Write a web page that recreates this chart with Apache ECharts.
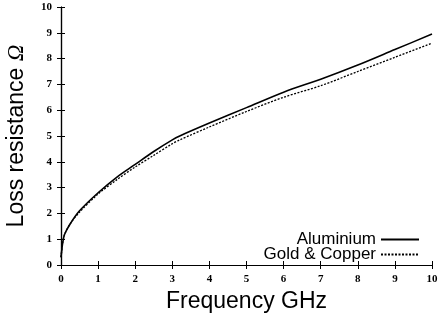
<!DOCTYPE html>
<html><head><meta charset="utf-8">
<script src="https://cdn.jsdelivr.net/npm/echarts@6/dist/echarts.min.js"></script>
<style>html,body{margin:0;padding:0;background:#fff}#c{width:439px;height:314px}</style>
</head><body><div id="c"></div>
<script>
var freq = [0, 0.05, 0.1, 0.25, 0.5, 1, 1.5, 2, 2.5, 3, 3.2, 4, 5, 6, 7, 8, 9, 10];
var aluminium = [0.3, 0.9, 1.2, 1.6, 2.1, 2.8, 3.4, 3.9, 4.4, 4.85, 5.0, 5.5, 6.1, 6.7, 7.2, 7.75, 8.35, 8.95];
var goldCopper = [0.3, 0.9, 1.2, 1.6, 2.05, 2.75, 3.3, 3.8, 4.25, 4.7, 4.85, 5.35, 5.95, 6.5, 6.95, 7.5, 8.05, 8.6];
var seriesNames = ['Aluminium', 'Gold & Copper'];

function pairs(xs, ys){ return xs.map(function(x,i){ return [x, ys[i]]; }); }

var chart = echarts.init(document.getElementById('c'));
var axisLine = {show:true, lineStyle:{color:'#000', width:1.2}};
var tick = {show:true, inside:true, length:4, lineStyle:{color:'#000'}};
var lab = {color:'#000', fontFamily:'Liberation Serif', fontSize:11, fontWeight:'bold'};
chart.setOption({
  animation:false,
  grid:{left:61, right:7, top:7, bottom:49, containLabel:false, outerBoundsMode:'none'},
  legend:{
    orient:'vertical', right:19, bottom:51, align:'right',
    itemWidth:38, itemHeight:8, itemGap:-2, padding:0,
    itemStyle:{opacity:0},
    textStyle:{fontFamily:'Liberation Sans', fontSize:17, color:'#000', padding:[0,0,0,0]},
    data:seriesNames
  },
  xAxis:[
    {type:'value', min:0, max:10, interval:1, position:'bottom',
     axisLine:axisLine, axisTick:tick, splitLine:{show:false},
     axisLabel:Object.assign({margin:9}, lab),
     name:'Frequency GHz', nameLocation:'middle', nameGap:16,
     nameTextStyle:{fontFamily:'Liberation Sans', fontSize:23, color:'#000'}},
    {type:'value', min:0, max:10, interval:1, position:'top',
     axisLine:axisLine, axisTick:tick, splitLine:{show:false}, axisLabel:{show:false}}
  ],
  yAxis:[
    {type:'value', min:0, max:10, interval:1, position:'left',
     axisLine:axisLine, axisTick:tick, splitLine:{show:false},
     axisLabel:Object.assign({margin:9}, lab),
     name:'Loss resistance {i|Ω}', nameLocation:'middle', nameGap:33,
     nameTextStyle:{fontFamily:'Liberation Sans', fontSize:23, color:'#000',
       rich:{i:{fontFamily:'Liberation Serif', fontStyle:'italic', fontSize:23, color:'#000'}}}},
    {type:'value', min:0, max:10, interval:1, position:'right',
     axisLine:axisLine, axisTick:tick, splitLine:{show:false}, axisLabel:{show:false}}
  ],
  series:[
    {name:seriesNames[0], type:'line', symbol:'none', smooth:0.3,
     lineStyle:{color:'#000', width:1.6, type:'solid'},
     itemStyle:{color:'#000'}, data:pairs(freq, aluminium)},
    {name:seriesNames[1], type:'line', symbol:'none', smooth:0.3,
     lineStyle:{color:'#000', width:1.3, type:[2,1.5]},
     itemStyle:{color:'#000'}, data:pairs(freq, goldCopper)}
  ]
});
</script></body></html>
